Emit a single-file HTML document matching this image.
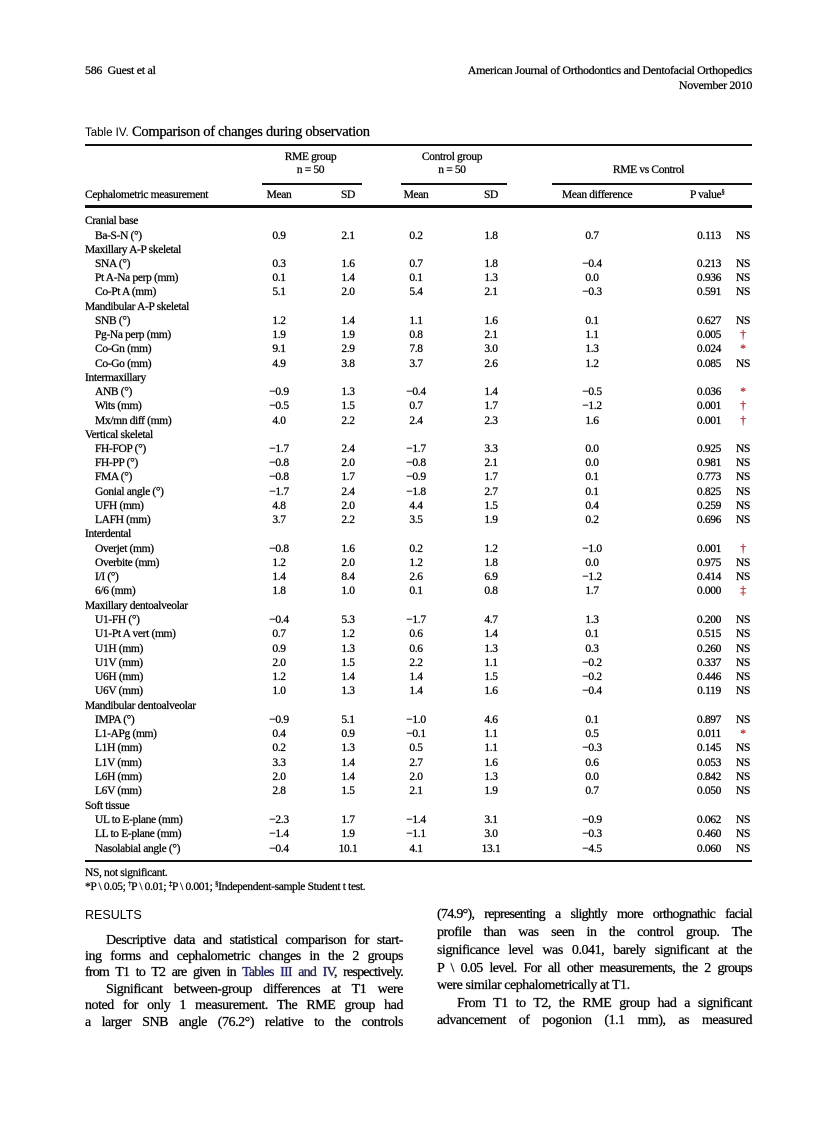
<!DOCTYPE html>
<html><head><meta charset="utf-8"><style>
body{margin:0;background:#fff;}
#p{position:relative;width:838px;height:1122px;background:#fff;font-family:"Liberation Serif",serif;color:#000;overflow:hidden;-webkit-text-stroke:0.25px #000}
.t{position:absolute;white-space:nowrap}
.r{position:absolute;left:0;width:838px;height:14px;font-size:11.5px;letter-spacing:-0.35px;line-height:14px}
.r span{position:absolute;white-space:nowrap}
sup{line-height:0;vertical-align:4px}
.l{left:85px}.s{left:95px}
.a,.b,.c,.d,.e,.f,.g{width:60px;text-align:center}
.a{left:249px}.b{left:318px}.c{left:386px}.d{left:461px}.e{left:562px}.f{left:679px}.g{left:713px}
.x{color:#b02020;-webkit-text-stroke:0.25px #b02020}
.hl{position:absolute;background:#111}
.bt{position:absolute;font-size:14px;letter-spacing:-0.45px;text-align:justify;text-align-last:justify;white-space:nowrap;line-height:16px}
</style></head><body><div id="p">
<div class="t" style="left:85px;top:63px;font-size:12px;letter-spacing:-0.3px">586&nbsp;&nbsp;Guest et al</div>
<div class="t" style="right:86px;top:63px;font-size:12px;letter-spacing:-0.35px">American Journal of Orthodontics and Dentofacial Orthopedics</div>
<div class="t" style="right:86px;top:78px;font-size:12px;letter-spacing:-0.35px">November 2010</div>
<div class="t" style="left:85px;top:124px;font-size:14.5px;letter-spacing:-0.3px"><span style="font-family:'Liberation Sans',sans-serif;font-size:11.5px;letter-spacing:0;-webkit-text-stroke:0">Table IV.</span> Comparison of changes during observation</div>
<div class="hl" style="left:85px;top:144px;width:667px;height:2px"></div>
<div class="t" style="left:259px;width:103px;text-align:center;top:151px;font-size:11.5px;letter-spacing:-0.35px;line-height:13px">RME group<br>n = 50</div>
<div class="t" style="left:398px;width:108px;text-align:center;top:151px;font-size:11.5px;letter-spacing:-0.35px;line-height:13px">Control group<br>n = 50</div>
<div class="t" style="left:545px;width:207px;text-align:center;top:164px;font-size:11.5px;letter-spacing:-0.35px">RME vs Control</div>
<div class="hl" style="left:262px;top:183px;width:100px;height:1.5px"></div>
<div class="hl" style="left:401px;top:183px;width:106px;height:1.5px"></div>
<div class="hl" style="left:552px;top:183px;width:200px;height:1.5px"></div>
<div class="r" style="top:188px"><span class="l">Cephalometric measurement</span><span class="a">Mean</span><span class="b">SD</span><span class="c">Mean</span><span class="d">SD</span><span class="e">Mean difference</span><span style="left:690px">P value<sup style="font-size:7px">§</sup></span></div>
<div class="hl" style="left:85px;top:205px;width:667px;height:2.5px"></div>

<div class="r" style="top:214px"><span class="l">Cranial base</span></div>
<div class="r" style="top:229px"><span class="s">Ba-S-N (°)</span><span class="a">0.9</span><span class="b">2.1</span><span class="c">0.2</span><span class="d">1.8</span><span class="e">0.7</span><span class="f">0.113</span><span class="g">NS</span></div>
<div class="r" style="top:243px"><span class="l">Maxillary A-P skeletal</span></div>
<div class="r" style="top:257px"><span class="s">SNA (°)</span><span class="a">0.3</span><span class="b">1.6</span><span class="c">0.7</span><span class="d">1.8</span><span class="e">−0.4</span><span class="f">0.213</span><span class="g">NS</span></div>
<div class="r" style="top:271px"><span class="s">Pt A-Na perp (mm)</span><span class="a">0.1</span><span class="b">1.4</span><span class="c">0.1</span><span class="d">1.3</span><span class="e">0.0</span><span class="f">0.936</span><span class="g">NS</span></div>
<div class="r" style="top:285px"><span class="s">Co-Pt A (mm)</span><span class="a">5.1</span><span class="b">2.0</span><span class="c">5.4</span><span class="d">2.1</span><span class="e">−0.3</span><span class="f">0.591</span><span class="g">NS</span></div>
<div class="r" style="top:300px"><span class="l">Mandibular A-P skeletal</span></div>
<div class="r" style="top:314px"><span class="s">SNB (°)</span><span class="a">1.2</span><span class="b">1.4</span><span class="c">1.1</span><span class="d">1.6</span><span class="e">0.1</span><span class="f">0.627</span><span class="g">NS</span></div>
<div class="r" style="top:328px"><span class="s">Pg-Na perp (mm)</span><span class="a">1.9</span><span class="b">1.9</span><span class="c">0.8</span><span class="d">2.1</span><span class="e">1.1</span><span class="f">0.005</span><span class="g x">†</span></div>
<div class="r" style="top:342px"><span class="s">Co-Gn (mm)</span><span class="a">9.1</span><span class="b">2.9</span><span class="c">7.8</span><span class="d">3.0</span><span class="e">1.3</span><span class="f">0.024</span><span class="g x">*</span></div>
<div class="r" style="top:357px"><span class="s">Co-Go (mm)</span><span class="a">4.9</span><span class="b">3.8</span><span class="c">3.7</span><span class="d">2.6</span><span class="e">1.2</span><span class="f">0.085</span><span class="g">NS</span></div>
<div class="r" style="top:371px"><span class="l">Intermaxillary</span></div>
<div class="r" style="top:385px"><span class="s">ANB (°)</span><span class="a">−0.9</span><span class="b">1.3</span><span class="c">−0.4</span><span class="d">1.4</span><span class="e">−0.5</span><span class="f">0.036</span><span class="g x">*</span></div>
<div class="r" style="top:399px"><span class="s">Wits (mm)</span><span class="a">−0.5</span><span class="b">1.5</span><span class="c">0.7</span><span class="d">1.7</span><span class="e">−1.2</span><span class="f">0.001</span><span class="g x">†</span></div>
<div class="r" style="top:414px"><span class="s">Mx/mn diff (mm)</span><span class="a">4.0</span><span class="b">2.2</span><span class="c">2.4</span><span class="d">2.3</span><span class="e">1.6</span><span class="f">0.001</span><span class="g x">†</span></div>
<div class="r" style="top:428px"><span class="l">Vertical skeletal</span></div>
<div class="r" style="top:442px"><span class="s">FH-FOP (°)</span><span class="a">−1.7</span><span class="b">2.4</span><span class="c">−1.7</span><span class="d">3.3</span><span class="e">0.0</span><span class="f">0.925</span><span class="g">NS</span></div>
<div class="r" style="top:456px"><span class="s">FH-PP (°)</span><span class="a">−0.8</span><span class="b">2.0</span><span class="c">−0.8</span><span class="d">2.1</span><span class="e">0.0</span><span class="f">0.981</span><span class="g">NS</span></div>
<div class="r" style="top:470px"><span class="s">FMA (°)</span><span class="a">−0.8</span><span class="b">1.7</span><span class="c">−0.9</span><span class="d">1.7</span><span class="e">0.1</span><span class="f">0.773</span><span class="g">NS</span></div>
<div class="r" style="top:485px"><span class="s">Gonial angle (°)</span><span class="a">−1.7</span><span class="b">2.4</span><span class="c">−1.8</span><span class="d">2.7</span><span class="e">0.1</span><span class="f">0.825</span><span class="g">NS</span></div>
<div class="r" style="top:499px"><span class="s">UFH (mm)</span><span class="a">4.8</span><span class="b">2.0</span><span class="c">4.4</span><span class="d">1.5</span><span class="e">0.4</span><span class="f">0.259</span><span class="g">NS</span></div>
<div class="r" style="top:513px"><span class="s">LAFH (mm)</span><span class="a">3.7</span><span class="b">2.2</span><span class="c">3.5</span><span class="d">1.9</span><span class="e">0.2</span><span class="f">0.696</span><span class="g">NS</span></div>
<div class="r" style="top:527px"><span class="l">Interdental</span></div>
<div class="r" style="top:542px"><span class="s">Overjet (mm)</span><span class="a">−0.8</span><span class="b">1.6</span><span class="c">0.2</span><span class="d">1.2</span><span class="e">−1.0</span><span class="f">0.001</span><span class="g x">†</span></div>
<div class="r" style="top:556px"><span class="s">Overbite (mm)</span><span class="a">1.2</span><span class="b">2.0</span><span class="c">1.2</span><span class="d">1.8</span><span class="e">0.0</span><span class="f">0.975</span><span class="g">NS</span></div>
<div class="r" style="top:570px"><span class="s">I/I (°)</span><span class="a">1.4</span><span class="b">8.4</span><span class="c">2.6</span><span class="d">6.9</span><span class="e">−1.2</span><span class="f">0.414</span><span class="g">NS</span></div>
<div class="r" style="top:584px"><span class="s">6/6 (mm)</span><span class="a">1.8</span><span class="b">1.0</span><span class="c">0.1</span><span class="d">0.8</span><span class="e">1.7</span><span class="f">0.000</span><span class="g x">‡</span></div>
<div class="r" style="top:599px"><span class="l">Maxillary dentoalveolar</span></div>
<div class="r" style="top:613px"><span class="s">U1-FH (°)</span><span class="a">−0.4</span><span class="b">5.3</span><span class="c">−1.7</span><span class="d">4.7</span><span class="e">1.3</span><span class="f">0.200</span><span class="g">NS</span></div>
<div class="r" style="top:627px"><span class="s">U1-Pt A vert (mm)</span><span class="a">0.7</span><span class="b">1.2</span><span class="c">0.6</span><span class="d">1.4</span><span class="e">0.1</span><span class="f">0.515</span><span class="g">NS</span></div>
<div class="r" style="top:642px"><span class="s">U1H (mm)</span><span class="a">0.9</span><span class="b">1.3</span><span class="c">0.6</span><span class="d">1.3</span><span class="e">0.3</span><span class="f">0.260</span><span class="g">NS</span></div>
<div class="r" style="top:656px"><span class="s">U1V (mm)</span><span class="a">2.0</span><span class="b">1.5</span><span class="c">2.2</span><span class="d">1.1</span><span class="e">−0.2</span><span class="f">0.337</span><span class="g">NS</span></div>
<div class="r" style="top:670px"><span class="s">U6H (mm)</span><span class="a">1.2</span><span class="b">1.4</span><span class="c">1.4</span><span class="d">1.5</span><span class="e">−0.2</span><span class="f">0.446</span><span class="g">NS</span></div>
<div class="r" style="top:684px"><span class="s">U6V (mm)</span><span class="a">1.0</span><span class="b">1.3</span><span class="c">1.4</span><span class="d">1.6</span><span class="e">−0.4</span><span class="f">0.119</span><span class="g">NS</span></div>
<div class="r" style="top:699px"><span class="l">Mandibular dentoalveolar</span></div>
<div class="r" style="top:713px"><span class="s">IMPA (°)</span><span class="a">−0.9</span><span class="b">5.1</span><span class="c">−1.0</span><span class="d">4.6</span><span class="e">0.1</span><span class="f">0.897</span><span class="g">NS</span></div>
<div class="r" style="top:727px"><span class="s">L1-APg (mm)</span><span class="a">0.4</span><span class="b">0.9</span><span class="c">−0.1</span><span class="d">1.1</span><span class="e">0.5</span><span class="f">0.011</span><span class="g x">*</span></div>
<div class="r" style="top:741px"><span class="s">L1H (mm)</span><span class="a">0.2</span><span class="b">1.3</span><span class="c">0.5</span><span class="d">1.1</span><span class="e">−0.3</span><span class="f">0.145</span><span class="g">NS</span></div>
<div class="r" style="top:756px"><span class="s">L1V (mm)</span><span class="a">3.3</span><span class="b">1.4</span><span class="c">2.7</span><span class="d">1.6</span><span class="e">0.6</span><span class="f">0.053</span><span class="g">NS</span></div>
<div class="r" style="top:770px"><span class="s">L6H (mm)</span><span class="a">2.0</span><span class="b">1.4</span><span class="c">2.0</span><span class="d">1.3</span><span class="e">0.0</span><span class="f">0.842</span><span class="g">NS</span></div>
<div class="r" style="top:784px"><span class="s">L6V (mm)</span><span class="a">2.8</span><span class="b">1.5</span><span class="c">2.1</span><span class="d">1.9</span><span class="e">0.7</span><span class="f">0.050</span><span class="g">NS</span></div>
<div class="r" style="top:799px"><span class="l">Soft tissue</span></div>
<div class="r" style="top:813px"><span class="s">UL to E-plane (mm)</span><span class="a">−2.3</span><span class="b">1.7</span><span class="c">−1.4</span><span class="d">3.1</span><span class="e">−0.9</span><span class="f">0.062</span><span class="g">NS</span></div>
<div class="r" style="top:827px"><span class="s">LL to E-plane (mm)</span><span class="a">−1.4</span><span class="b">1.9</span><span class="c">−1.1</span><span class="d">3.0</span><span class="e">−0.3</span><span class="f">0.460</span><span class="g">NS</span></div>
<div class="r" style="top:842px"><span class="s">Nasolabial angle (°)</span><span class="a">−0.4</span><span class="b">10.1</span><span class="c">4.1</span><span class="d">13.1</span><span class="e">−4.5</span><span class="f">0.060</span><span class="g">NS</span></div>
<div class="hl" style="left:85px;top:860px;width:667px;height:2px"></div>
<div class="r" style="top:866px"><span class="l">NS, not significant.</span></div>
<div class="r" style="top:880px"><span class="l">*P \ 0.05; <sup style="font-size:7px">†</sup>P \ 0.01; <sup style="font-size:7px">‡</sup>P \ 0.001; <sup style="font-size:7px">§</sup>Independent-sample Student t test.</span></div>

<div class="t" style="left:85px;top:908px;font-family:'Liberation Sans',sans-serif;font-size:12.5px;-webkit-text-stroke:0">RESULTS</div>
<div class="bt" style="left:106px;width:297px;top:933px">Descriptive data and statistical comparison for start-</div>
<div class="bt" style="left:85px;width:318px;top:949px">ing forms and cephalometric changes in the 2 groups</div>
<div class="bt" style="left:85px;width:318px;top:965px;letter-spacing:-0.8px">from T1 to T2 are given in <span style="color:#2a2a80">Tables III and IV</span>, respectively.</div>
<div class="bt" style="left:106px;width:297px;top:982px">Significant between-group differences at T1 were</div>
<div class="bt" style="left:85px;width:318px;top:998px">noted for only 1 measurement. The RME group had</div>
<div class="bt" style="left:85px;width:318px;top:1015px">a larger SNB angle (76.2°) relative to the controls</div>
<div class="bt" style="left:437px;width:315px;top:907px;letter-spacing:-0.7px">(74.9°), representing a slightly more orthognathic facial</div>
<div class="bt" style="left:437px;width:315px;top:925px">profile than was seen in the control group. The</div>
<div class="bt" style="left:437px;width:315px;top:943px">significance level was 0.041, barely significant at the</div>
<div class="bt" style="left:437px;width:315px;top:961px;letter-spacing:-0.6px">P \ 0.05 level. For all other measurements, the 2 groups</div>
<div class="t" style="left:437px;top:978px;font-size:14px;letter-spacing:-0.45px">were similar cephalometrically at T1.</div>
<div class="bt" style="left:457px;width:295px;top:996px">From T1 to T2, the RME group had a significant</div>
<div class="bt" style="left:437px;width:315px;top:1013px">advancement of pogonion (1.1 mm), as measured</div>
</div></body></html>
